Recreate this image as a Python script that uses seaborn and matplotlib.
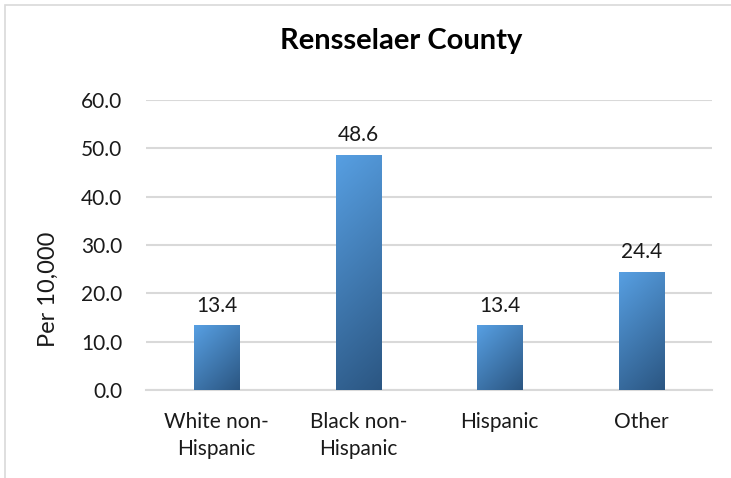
import numpy as np
import pandas as pd
import matplotlib
matplotlib.use("Agg")
import matplotlib.pyplot as plt
import seaborn as sns
from matplotlib.colors import LinearSegmentedColormap
from matplotlib.patches import Rectangle

categories = ["White non-\nHispanic", "Black non-\nHispanic", "Hispanic", "Other"]
rates = [13.4, 48.6, 13.4, 24.4]
yticks = [0, 10, 20, 30, 40, 50, 60]

df = pd.DataFrame({"group": categories, "rate": rates})

sns.set_theme(style="white")
plt.rcParams["font.family"] = ["Lato", "DejaVu Sans"]

fig = plt.figure(figsize=(7.31, 4.78), dpi=100)
ax = fig.add_axes([146 / 731, 1 - 390 / 478, 566 / 731, 290 / 478])

sns.barplot(data=df, x="group", y="rate", ax=ax, width=0.32,
            color="#4a8fd4", edgecolor="none", zorder=3)

ax.set_ylim(0, 60)
ax.set_xlim(-0.5, 3.5)
ax.set_yticks(yticks)
ax.set_yticklabels([f"{v:.1f}" for v in yticks], fontsize=15, color="#1a1a1a")
ax.tick_params(axis="y", length=0, pad=17)
ax.tick_params(axis="x", length=0, pad=16)
for lbl in ax.get_xticklabels():
    lbl.set_fontsize(15)
    lbl.set_color("#1a1a1a")
    lbl.set_linespacing(1.45)
ax.set_xlabel("")
ax.set_ylabel("Per 10,000", fontsize=17, color="#1a1a1a", labelpad=16)
ax.yaxis.label.set_y(0.348)
ax.grid(axis="y", color="#d9d9d9", linewidth=1.5, zorder=0)
for side in ["top", "right", "left"]:
    ax.spines[side].set_visible(False)
ax.spines["bottom"].set_color("#d9d9d9")
ax.spines["bottom"].set_linewidth(1.5)

# 45-degree gradient in screen space: light blue at top-left, dark navy at bottom-right
cmap = LinearSegmentedColormap.from_list("bar_grad", ["#579fe2", "#2b5682"])
px_per_x = 566 / 4
px_per_y = 290 / 60
for bar, val in zip(ax.patches, rates):
    x0, y0 = bar.get_x(), bar.get_y()
    w, h = bar.get_width(), bar.get_height()
    bar.set_alpha(0)
    wp, hp = w * px_per_x, h * px_per_y
    ny, nx = max(int(hp), 2), max(int(wp), 2)
    gy, gx = np.mgrid[0:hp:complex(ny), 0:wp:complex(nx)]
    grad = (gx + gy) / (wp + hp)
    im = ax.imshow(grad, cmap=cmap, extent=[x0, x0 + w, y0, y0 + h],
                   origin="upper", aspect="auto", zorder=4, vmin=0, vmax=1,
                   interpolation="bilinear")
    clip = Rectangle((x0, y0), w, h, transform=ax.transData)
    im.set_clip_path(clip)
    ax.text(x0 + w / 2, y0 + h + 2.0, f"{val:.1f}", ha="center", va="bottom",
            fontsize=15, color="#1a1a1a", zorder=5)
ax.set_xlim(-0.5, 3.5)
ax.set_ylim(0, 60)

fig.text(401 / 731, 1 - 41 / 478, "Rensselaer County", ha="center", va="center",
         fontsize=21, fontweight="bold", color="#000000")

# outer chart frame
frame = Rectangle((5 / 731, -0.05), 1.2, 1 - 5 / 478 + 0.05, transform=fig.transFigure,
                  fill=False, edgecolor="#d9d9d9", linewidth=1.2)
fig.patches.append(frame)

fig.savefig("out.png", dpi=100)
